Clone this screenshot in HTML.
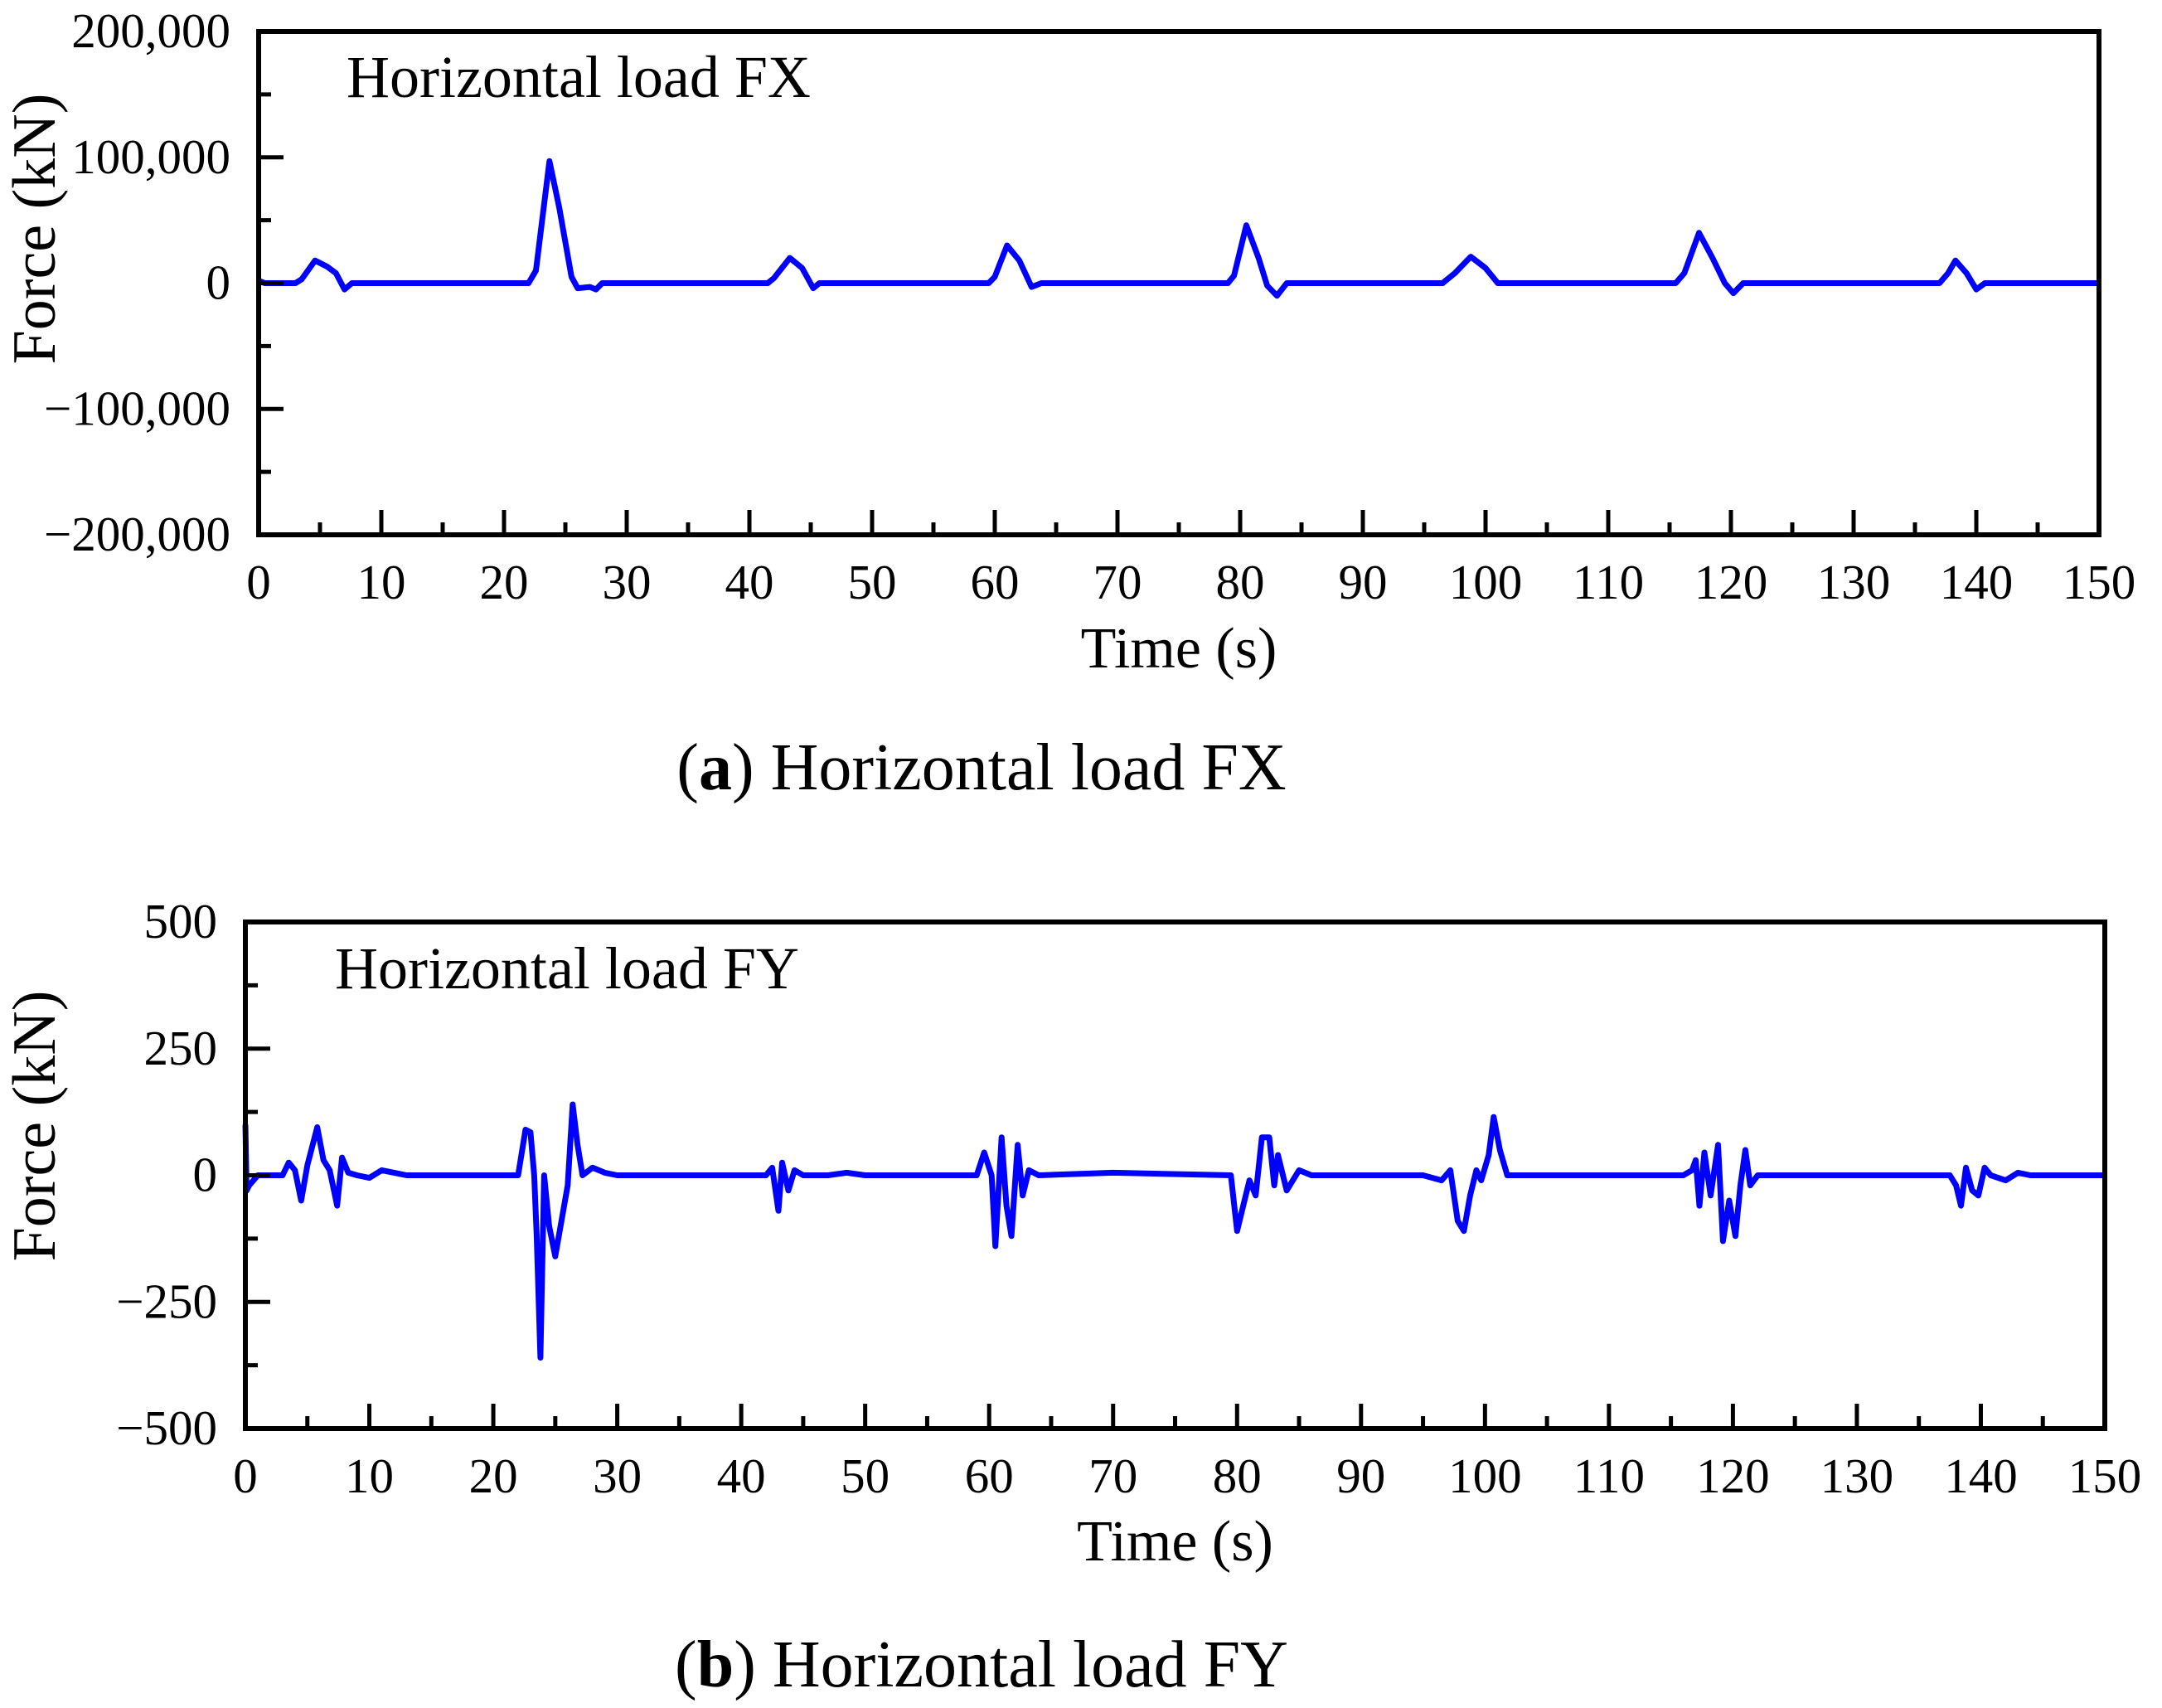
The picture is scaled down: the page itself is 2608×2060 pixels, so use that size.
<!DOCTYPE html>
<html><head><meta charset="utf-8"><style>
html,body{margin:0;padding:0;background:#fff;}
svg{display:block;font-family:"Liberation Serif",serif;}
</style></head><body>
<svg id="fig" width="2608" height="2060" viewBox="0 0 2608 2060"></svg>
<script>
const xTicks=[0,10,20,30,40,50,60,70,80,90,100,110,120,130,140,150];
const fxTickVals=[200000,100000,0,-100000,-200000];
const fxTickLabels=["200,000","100,000","0","\u2212100,000","\u2212200,000"];
const fyTickVals=[500,250,0,-250,-500];
const fyTickLabels=["500","250","0","\u2212250","\u2212500"];
const fxTime=[0,0.5,3,3.5,4.6,5.6,6.3,7,7.6,22,22.6,23.7,24.5,25.5,26,27,27.5,28,41.5,42,43.3,44.3,45.2,45.7,59.5,60,61,62,63,63.8,79,79.5,80.5,81.5,82.2,83,83.8,96.5,97.5,98.8,100,101,115.5,116.2,117.4,118.5,119.5,120.2,121,137,137.7,138.3,139.2,140,140.7,150];
const fxValues=[2000,0,0,3000,18000,13000,8000,-5000,0,0,10000,97000,60000,5000,-4000,-3000,-5000,0,0,4000,20000,12000,-4000,0,0,5000,30000,18000,-3000,0,0,6000,46000,20000,-2000,-10000,0,0,8000,21000,12000,0,0,8000,40000,20000,0,-8000,0,0,8000,18000,8000,-5000,0,0];
const fyTime=[0,0.1,0.3,1,3,3.5,4,4.5,5,5.8,6.3,6.8,7.4,7.8,8.3,9,10,11,12,13,22,22.6,23,23.3,23.5,23.8,24.1,24.5,25,25.5,26,26.4,26.8,27.2,28,29,30,42,42.5,43,43.3,43.8,44.3,45,47,48.5,50,59,59.6,60.2,60.5,61,61.4,61.8,62.3,62.7,63.2,64,70,79.5,80,80.5,81,81.5,82,82.6,83,83.3,84,85,86,95,96.5,97.2,97.8,98.3,98.8,99.3,99.7,100.3,100.7,101.2,101.8,116,116.7,117,117.3,117.7,118.2,118.8,119.2,119.7,120.2,120.6,121,121.4,122,137.5,138,138.4,138.8,139.3,139.8,140.3,140.8,142,143,144,150];
const fyValues=[100,-30,-20,0,0,25,10,-50,20,95,30,10,-60,35,5,0,-5,10,5,0,0,90,85,0,-120,-360,0,-100,-160,-90,-20,140,60,0,15,5,0,0,15,-70,25,-30,10,0,0,5,0,0,45,0,-140,75,-60,-120,60,-40,10,0,5,0,-110,-60,-10,-40,75,75,-20,40,-30,10,0,0,-10,10,-90,-110,-40,10,-10,40,115,50,0,0,10,30,-60,45,-40,60,-130,-50,-120,-20,50,-20,0,0,-20,-60,15,-30,-40,15,0,-10,5,0,0];

const NS="http://www.w3.org/2000/svg";
const svg=document.getElementById('fig');
function mk(tag,attrs,parent){const e=document.createElementNS(NS,tag);for(const k in attrs)e.setAttribute(k,attrs[k]);(parent||svg).appendChild(e);return e;}

function drawChart(cfg){
  const g=mk('g',{});
  
  
  const L=cfg.left,R=cfg.right,T=cfg.top,B=cfg.bottom;
  const xs=t=>L+(t-0)/(150-0)*(R-L);
  const ys=v=>B-(v-cfg.ymin)/(cfg.ymax-cfg.ymin)*(B-T);
  let d='';
  for(let i=0;i<cfg.time.length;i++){d+=(i?'L':'M')+xs(cfg.time[i]).toFixed(1)+' '+ys(cfg.vals[i]).toFixed(1);}
  const line=mk('path',{d:d,fill:'none',stroke:'#0000ff','stroke-width':7,'stroke-linejoin':'round'},g);
  
  
  const fr=mk('rect',{x:L,y:T,width:R-L,height:B-T,fill:'none',stroke:'#000','stroke-width':6},g);
  
  
  for(let i=0;i<xTicks.length;i++){
    const x=xs(xTicks[i]);
    mk('line',{x1:x,x2:x,y1:B,y2:B-30,stroke:'#000','stroke-width':5},g);
    if(i<xTicks.length-1){const xm=xs(xTicks[i]+5);mk('line',{x1:xm,x2:xm,y1:B,y2:B-15,stroke:'#000','stroke-width':5},g);}
    const t=mk('text',{x:x,y:cfg.xLabelY,'font-size':59,'text-anchor':'middle'},g);
    
    
    t.textContent=xTicks[i];
  }
  for(let i=0;i<cfg.yTicks.length;i++){
    const y=ys(cfg.yTicks[i]);
    mk('line',{x1:L,x2:L+30,y1:y,y2:y,stroke:'#000','stroke-width':5},g);
    if(i<cfg.yTicks.length-1){const ym=ys((cfg.yTicks[i]+cfg.yTicks[i+1])/2);mk('line',{x1:L,x2:L+15,y1:ym,y2:ym,stroke:'#000','stroke-width':5},g);}
    const t=mk('text',{x:L-34,y:y+19,'font-size':59,'text-anchor':'end'},g);
    
    
    t.textContent=cfg.yLabels[i];
  }
  const xt=mk('text',{x:(L+R)/2,y:cfg.xTitleY,'font-size':70,'text-anchor':'middle'},g);
  
  
  xt.textContent='Time (s)';
  const yt=mk('text',{x:0,y:0,'font-size':74,'text-anchor':'middle',transform:'translate(66,'+cfg.yTitleY+') rotate(-90)'},g);
  
  
  yt.textContent='Force (kN)';
  const il=mk('text',{x:cfg.innerX,y:cfg.innerY,'font-size':72},g);
  
  
  il.textContent=cfg.inner;
  const cap=mk('text',{x:1184,y:cfg.capY,'font-size':80,'text-anchor':'middle'},g);
  
  
  cap.innerHTML='(<tspan font-weight="bold">'+cfg.letter+'</tspan>) '+cfg.inner;
}

drawChart({name:'chart-fx',left:312,right:2532,top:38,bottom:645,ymin:-200000,ymax:200000,
  yTicks:fxTickVals,yLabels:fxTickLabels,time:fxTime,vals:fxValues,xLabelY:722,xTitleY:805,yTitleY:276,
  innerX:418,innerY:117,inner:'Horizontal load FX',letter:'a',capY:952});
drawChart({name:'chart-fy',left:296,right:2539,top:1112,bottom:1723,ymin:-500,ymax:500,
  yTicks:fyTickVals,yLabels:fyTickLabels,time:fyTime,vals:fyValues,xLabelY:1800,xTitleY:1882,yTitleY:1358,
  innerX:404,innerY:1192,inner:'Horizontal load FY',letter:'b',capY:2034});
</script>
</body></html>
